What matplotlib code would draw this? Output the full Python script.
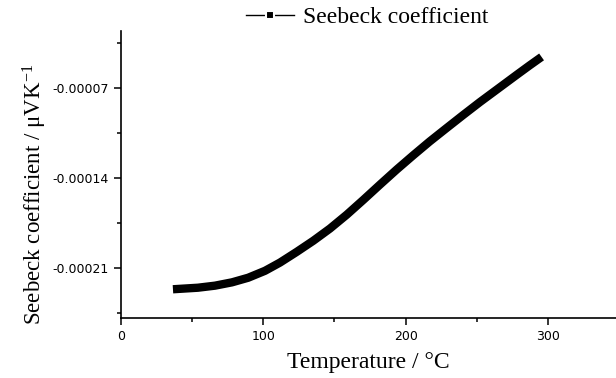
import matplotlib
matplotlib.use("Agg")
import matplotlib.pyplot as plt
from matplotlib.ticker import MultipleLocator, FixedLocator, FuncFormatter

temperature = [36.5, 54.0, 66.0, 78.0, 89.4, 101.2, 111.7, 123.4, 135.1, 146.8, 158.6, 170.2,
               182.0, 193.7, 205.3, 216.9, 228.7, 240.5, 252.3, 264.0, 278.0, 287.0, 295.5]
seebeck_e5 = [-22.66, -22.54, -22.38, -22.12, -21.76, -21.22, -20.58, -19.75, -18.88, -17.93,
              -16.85, -15.70, -14.50, -13.33, -12.22, -11.14, -10.10, -9.07, -8.06, -7.10,
              -5.95, -5.22, -4.55]
seebeck = [v * 1e-5 for v in seebeck_e5]

y_major = [-0.00021, -0.00014, -0.00007]
y_minor = [-0.000245, -0.000175, -0.000105, -0.000035]
x_major = [0, 100, 200, 300]

serif = ["Liberation Serif", "DejaVu Serif"]
plt.rcParams["mathtext.fontset"] = "custom"
plt.rcParams["mathtext.rm"] = "Liberation Serif"
plt.rcParams["mathtext.it"] = "Liberation Serif:italic"
plt.rcParams["mathtext.default"] = "rm"

fig = plt.figure(figsize=(6.16, 3.78), dpi=100)
ax = fig.add_axes([121 / 616, 60 / 378, 495 / 616, 287 / 378])

ax.plot(temperature, seebeck, color="black", lw=6.0, solid_capstyle="butt",
        solid_joinstyle="round", label="Seebeck coefficient")

ax.set_xlim(0, 347.8)
ax.set_ylim(-0.000249, -0.0000253)

ax.xaxis.set_major_locator(FixedLocator(x_major))
ax.xaxis.set_minor_locator(MultipleLocator(50))
ax.yaxis.set_major_locator(FixedLocator(y_major))
ax.yaxis.set_minor_locator(FixedLocator(y_minor))
ax.yaxis.set_major_formatter(FuncFormatter(lambda v, p: f"{v:.5f}"))

for s in ("top", "right"):
    ax.spines[s].set_visible(False)
for s in ("left", "bottom"):
    ax.spines[s].set_linewidth(1.2)

ax.tick_params(axis="both", which="major", direction="out", length=5, width=1.1,
               labelsize=9, pad=4)
ax.tick_params(axis="both", which="minor", direction="out", length=3, width=1.1)
for lab in ax.get_xticklabels() + ax.get_yticklabels():
    lab.set_family("DejaVu Sans")

ax.set_xlabel("Temperature / °C", family=serif, fontsize=17, labelpad=6)
ax.set_ylabel("Seebeck coefficient / μVK$^{-1}$", family=serif, fontsize=16.5)
ax.yaxis.set_label_coords(-0.146, 0.43)

handle = plt.Line2D([], [], color="black", lw=1, marker="s", markersize=6,
                    markerfacecolor="black", markeredgecolor="white", markeredgewidth=1.5)
leg = ax.legend(handles=[handle], labels=["Seebeck coefficient"], loc="upper left",
                bbox_to_anchor=(244 / 616, 1.0 - 4 / 378), bbox_transform=fig.transFigure,
                frameon=False, prop={"family": serif, "size": 17}, handlelength=2.0,
                handletextpad=0.4, borderaxespad=0, borderpad=0.1)

fig.savefig("out.png", dpi=100)
